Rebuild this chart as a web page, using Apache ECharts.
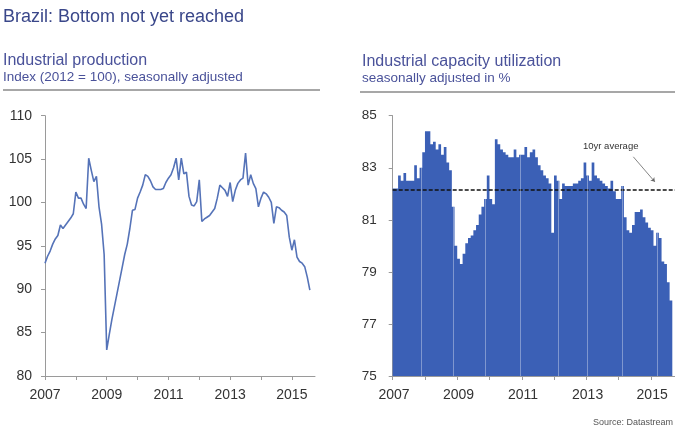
<!DOCTYPE html>
<html>
<head>
<meta charset="utf-8">
<script src="https://cdn.jsdelivr.net/npm/echarts@6/dist/echarts.min.js"></script>
<style>html,body{margin:0;padding:0;background:#fff;}#c{width:675px;height:432px;}</style>
</head>
<body>
<div id="c"></div>
<script>
// Monthly categories Jan 2007 onwards
var ipMonths = [];
for (var y = 2007; y <= 2015; y++) { for (var m = 1; m <= 12; m++) { var s = y + '-' + (m < 10 ? '0' + m : m); if (ipMonths.length < 106) ipMonths.push(s); } }
var cuMonths = ipMonths.slice(0, 105);

// Industrial production, index 2012=100, Jan 2007 - Aug 2015
var ipValues = [
  93.0, 93.8, 94.4, 95.2, 95.8, 96.2, 97.4, 97.0, 97.4, 97.8, 98.2, 98.7,
  101.2, 100.5, 100.5, 99.8, 99.3, 105.1, 103.7, 102.4, 103.0, 99.5, 97.5, 94.0,
  83.0, 84.8, 86.5, 88.0, 89.5, 91.0, 92.5, 94.0, 95.2, 97.0, 99.1, 99.2,
  100.5, 101.2, 102.0, 103.2, 103.0, 102.5, 101.8, 101.5, 101.5, 101.5, 101.6, 102.3,
  102.8, 103.2, 104.0, 105.1, 102.6, 105.1, 103.3, 103.5, 100.7, 99.7, 99.6, 100.1,
  102.6, 97.8, 98.1, 98.3, 98.5, 98.9, 99.3, 100.5, 102.0, 101.7, 101.4, 100.7,
  102.3, 100.1, 101.4, 102.2, 102.6, 102.8, 105.7, 102.0, 103.2, 102.2, 101.6, 99.5,
  100.5, 101.2, 101.0, 100.6, 100.0, 97.6, 99.5, 99.4, 99.1, 98.9, 98.5, 96.0,
  94.5, 95.7, 93.7, 93.2, 93.0, 92.6, 91.4, 89.9
];

// Industrial capacity utilization, %, Jan 2007 - Aug 2015
var cuValues = [
  82.2, 82.2, 82.7, 82.5, 82.8, 82.5, 82.5, 82.5, 83.1, 82.6, 83.0, 83.6,
  84.4, 84.4, 83.9, 84.0, 83.7, 83.9, 83.5, 83.8, 83.2, 82.9, 81.5, 80.0,
  79.5, 79.3, 79.7, 80.1, 80.3, 80.4, 80.6, 80.8, 81.2, 81.5, 81.8, 82.7,
  81.8, 81.6, 84.1, 83.9, 83.7, 83.6, 83.5, 83.4, 83.4, 83.7, 83.4, 83.5,
  83.5, 83.8, 83.4, 83.6, 83.7, 83.4, 83.1, 82.9, 82.7, 82.6, 82.4, 80.5,
  82.7, 82.5, 81.8, 82.4, 82.3, 82.3, 82.3, 82.4, 82.4, 82.5, 82.6, 83.2,
  82.7, 82.5, 83.2, 82.7, 82.6, 82.5, 82.4, 82.3, 82.2, 82.5, 82.1, 81.8,
  81.8, 82.3, 81.1, 80.6, 80.5, 80.8, 81.3, 81.3, 81.4, 81.1, 80.9, 80.7,
  80.6, 80.0, 80.5, 80.3, 79.4, 79.3, 78.6, 77.9
];
var tenYearAverage = 82.15;
// faint light seams visible in the original bar block
var seamMonths = ['2007-11', '2008-11', '2009-11', '2010-12', '2012-02', '2013-01', '2014-02', '2015-03'];

var ipYTicks = [80, 85, 90, 95, 100, 105, 110];
var cuYTicks = [75, 77, 79, 81, 83, 85];
var yearTickLabels = ['2007', '2009', '2011', '2013', '2015'];

var FONT = 'Liberation Sans, Arial, sans-serif';
var AXIS = '#9a9a9a';
var LABEL = '#333';
var HEAD = '#4a529a';
var BAR = '#3b60b6';

function isYearStart(idx, val) { return val.slice(5) === '01'; }
function isLabelYear(idx, val) { return val.slice(5) === '01' && yearTickLabels.indexOf(val.slice(0, 4)) >= 0; }

var markLines = [
  {yAxis: tenYearAverage, lineStyle: {color: '#111', type: [4, 2], width: 1.6}},
  [{coord: ['2014-06', 83.42], symbol: 'none', lineStyle: {color: '#666', type: 'solid', width: 0.8}},
   {coord: ['2015-02', 82.46], symbol: 'arrow', symbolSize: 4}]
];
var seamLines = seamMonths.map(function (mo) {
  return [{coord: [mo, cuYTicks[0]], symbol: 'none'}, {coord: [mo, cuValues[cuMonths.indexOf(mo)]], symbol: 'none'}];
});

var chart = echarts.init(document.getElementById('c'), null, {renderer: 'canvas'});
chart.setOption({
  animation: false,
  backgroundColor: '#fff',
  title: [
    {text: 'Brazil: Bottom not yet reached', left: 3, top: 8, padding: 0,
     textStyle: {fontSize: 18, fontWeight: 'normal', color: '#3a478a', fontFamily: FONT}},
    {text: 'Industrial production', left: 3, top: 53, padding: 0,
     textStyle: {fontSize: 16, fontWeight: 'normal', color: HEAD, fontFamily: FONT}},
    {text: 'Index (2012 = 100), seasonally adjusted', left: 3, top: 70, padding: 0,
     textStyle: {fontSize: 13.5, fontWeight: 'normal', color: HEAD, fontFamily: FONT}},
    {text: 'Industrial capacity utilization', left: 362, top: 54, padding: 0,
     textStyle: {fontSize: 16, fontWeight: 'normal', color: HEAD, fontFamily: FONT}},
    {text: 'seasonally adjusted in %', left: 362, top: 71, padding: 0,
     textStyle: {fontSize: 13.5, fontWeight: 'normal', color: HEAD, fontFamily: FONT}}
  ],
  graphic: [
    {type: 'line', shape: {x1: 3, y1: 90, x2: 320, y2: 90}, style: {stroke: '#8a8a8a', lineWidth: 1.5}},
    {type: 'line', shape: {x1: 360, y1: 92, x2: 675, y2: 92}, style: {stroke: '#8a8a8a', lineWidth: 1.5}},
    {type: 'text', right: 2, top: 418, style: {text: 'Source: Datastream', fill: '#555', font: '9px ' + FONT}},
    {type: 'text', left: 583, top: 141, z: 10, style: {text: '10yr average', fill: '#333', font: '9.5px ' + FONT}}
  ],
  grid: [
    {left: 45, right: 360, top: 115.7, bottom: 56},
    {left: 392.7, right: -1, top: 115.7, bottom: 56}
  ],
  xAxis: [
    {type: 'category', gridIndex: 0, data: ipMonths, boundaryGap: false,
     axisLine: {lineStyle: {color: AXIS, width: 1}},
     axisTick: {show: true, interval: isYearStart, length: 4, lineStyle: {color: AXIS}},
     axisLabel: {interval: isLabelYear, formatter: function (v) { return v.slice(0, 4); }, color: LABEL, fontSize: 14, fontFamily: FONT, margin: 12},
     splitLine: {show: false}},
    {type: 'category', gridIndex: 1, data: cuMonths, boundaryGap: true,
     axisLine: {lineStyle: {color: AXIS, width: 1}},
     axisTick: {show: true, interval: isYearStart, length: 4, lineStyle: {color: AXIS}},
     axisLabel: {interval: isLabelYear, formatter: function (v) { return v.slice(0, 4); }, color: LABEL, fontSize: 14, fontFamily: FONT, margin: 12},
     splitLine: {show: false}}
  ],
  yAxis: [
    {type: 'value', gridIndex: 0, min: ipYTicks[0], max: ipYTicks[ipYTicks.length - 1], interval: 5,
     axisLine: {show: true, lineStyle: {color: AXIS}},
     axisTick: {show: true, length: 4, lineStyle: {color: AXIS}},
     axisLabel: {color: LABEL, fontSize: 14, fontFamily: FONT, margin: 13},
     splitLine: {show: false}},
    {type: 'value', gridIndex: 1, min: cuYTicks[0], max: cuYTicks[cuYTicks.length - 1], interval: 2,
     axisLine: {show: true, lineStyle: {color: AXIS}},
     axisTick: {show: true, length: 4, lineStyle: {color: AXIS}},
     axisLabel: {color: LABEL, fontSize: 13.5, fontFamily: FONT, margin: 16},
     splitLine: {show: false}}
  ],
  series: [
    {type: 'line', xAxisIndex: 0, yAxisIndex: 0, data: ipValues, showSymbol: false, symbol: 'none',
     lineStyle: {color: '#5573b8', width: 1.6}},
    {type: 'bar', xAxisIndex: 1, yAxisIndex: 1, data: cuValues, barCategoryGap: '0%', barGap: '0%',
     large: true, largeThreshold: 20,
     itemStyle: {color: BAR},
     markLine: {silent: true, symbol: ['none', 'none'], label: {show: false}, data: markLines}},
    {type: 'line', xAxisIndex: 1, yAxisIndex: 1, data: [], silent: true, z: 3,
     markLine: {silent: true, symbol: ['none', 'none'], label: {show: false},
       lineStyle: {color: 'rgba(255,255,255,0.35)', type: 'solid', width: 1}, data: seamLines}}
  ]
});
</script>
</body>
</html>
